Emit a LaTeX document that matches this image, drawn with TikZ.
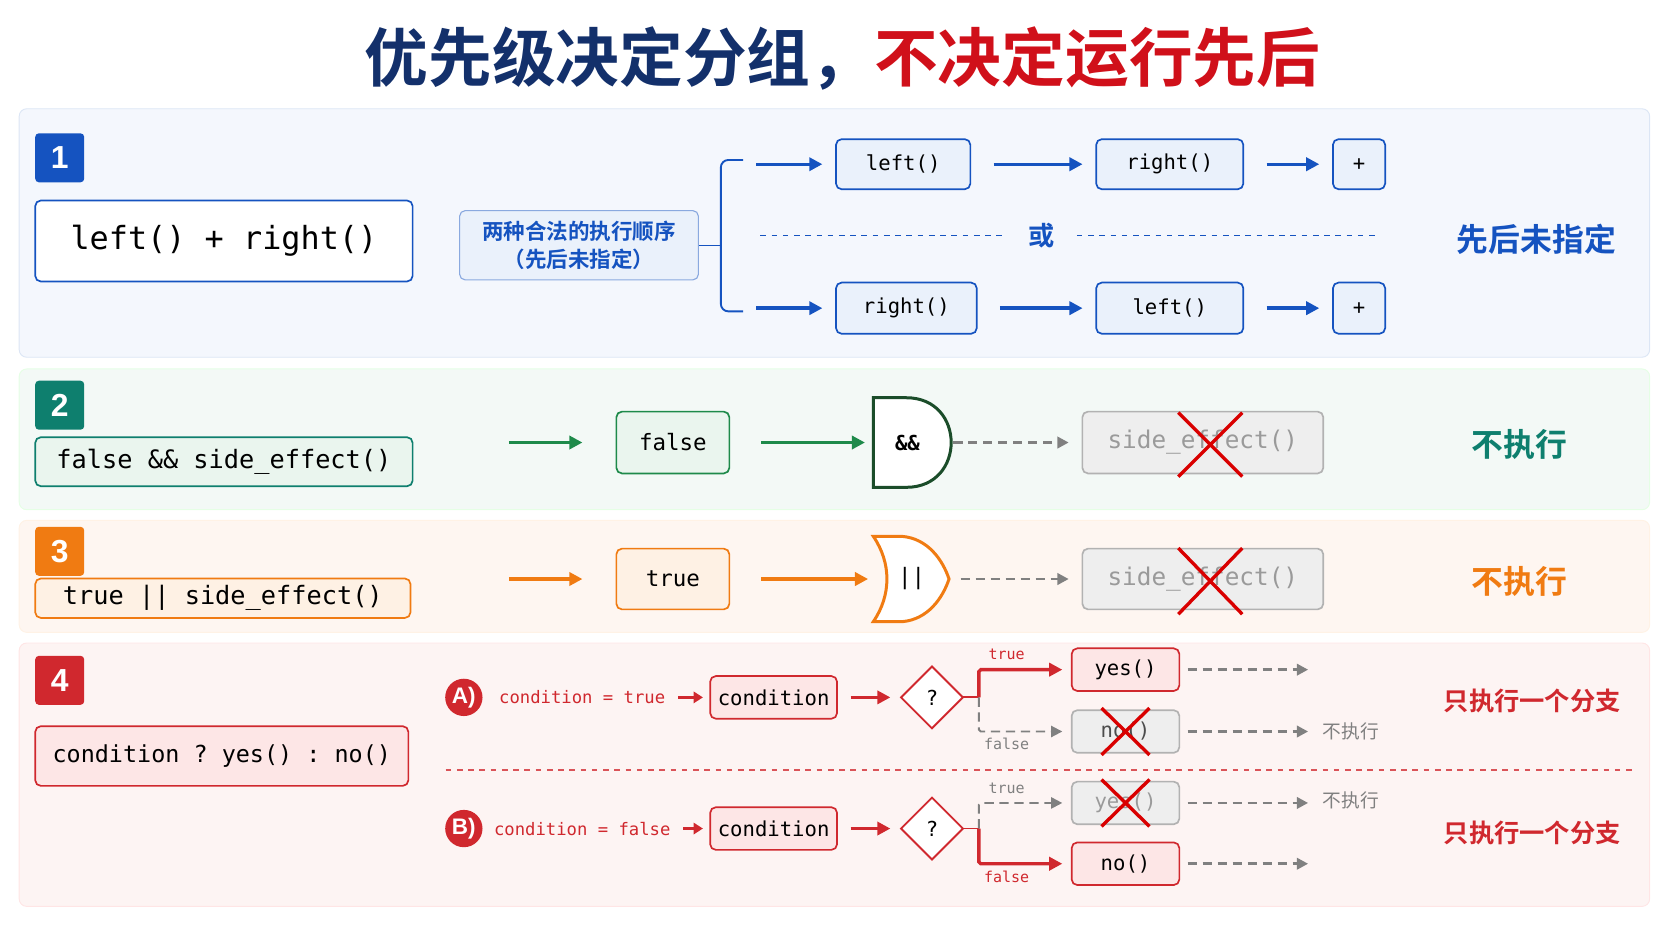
\documentclass[tikz,border=0pt]{standalone}
\usepackage{fontspec}
\setmainfont{Liberation Sans}
\setmonofont{DejaVu Sans Mono}
\newfontfamily\cjk{Noto Sans CJK SC}
\newfontfamily\cjkb{Noto Sans CJK SC Bold}
\usetikzlibrary{arrows.meta,positioning}
\definecolor{navy}{HTML}{13306B}
\definecolor{tred}{HTML}{D0101A}
\definecolor{bblue}{HTML}{1553C0}
\definecolor{bgone}{HTML}{F4F7FD}
\definecolor{bdone}{HTML}{DCE6F5}
\definecolor{boxone}{HTML}{EAF1FB}
\definecolor{teal}{HTML}{0E7F6E}
\definecolor{gate}{HTML}{1B4D2A}
\definecolor{garrow}{HTML}{1E8A4A}
\definecolor{bgtwo}{HTML}{F3F9F6}
\definecolor{boxtwo}{HTML}{EAF5EE}
\definecolor{oran}{HTML}{F07B12}
\definecolor{bgthree}{HTML}{FEF6F1}
\definecolor{boxthree}{HTML}{FEF1E4}
\definecolor{rred}{HTML}{D0282E}
\definecolor{bgfour}{HTML}{FDF4F3}
\definecolor{boxfour}{HTML}{FDE6E6}
\definecolor{gbox}{HTML}{EEEEEE}
\definecolor{gtext}{HTML}{9A9A9A}
\newcommand\fs[1]{\fontsize{#1}{#1}\selectfont}
\begin{document}
\begin{tikzpicture}[
    x=0.02cm, y=-0.02cm,
    box/.style = {
      draw,
      rounded corners = 3pt,
      line width = 0.9pt,
      inner sep = 0pt,
      font = \ttfamily\fs{11}
    },
    badge/.style = {
      rounded corners = 2pt,
      minimum size = 0.92cm,
      text = white,
      font = \bfseries\fs{17}
    },
    panel/.style = {
      rounded corners = 4pt,
      line width = 0.5pt
    },
    arr/.style = {
      line width = 1.8pt,
      -{Triangle[length=7pt,width=7pt]}
    },
    skip/.style = {
      gray,
      line width = 1.5pt,
      dash pattern = on 5pt off 3pt,
      -{Triangle[length=6pt,width=6pt]}
    },
    gbx/.style = {
      box,
      draw = gray!60,
      fill = gbox,
      text = gtext
    },
    cross/.style = {
      red!85!black,
      line width = 1.8pt
    }
  ]
  \useasboundingbox (0,0) rectangle (1568,882);

  % title
  \node (title) at (790,55) {\cjkb\fs{34}\textcolor{navy}{优先级决定分组，}\textcolor{tred}{不决定运行先后}};

  % panels
  \draw[panel, draw=bdone, fill=bgone] (18,102) rectangle (1547,335);
  \draw[panel, draw=green!10, fill=bgtwo] (18,346) rectangle (1547,478);
  \draw[panel, draw=orange!10, fill=bgthree] (18,488) rectangle (1547,593);
  \draw[panel, draw=red!10, fill=bgfour] (18,603) rectangle (1547,850);

  % 1
  \node[badge, fill=bblue] (b1) at (56,148) {1};
  \node[box, draw=bblue, fill=white, minimum width=7.08cm, minimum height=1.52cm, font=\ttfamily\fs{17}] (code1) at (210,226) {left() + right()};
  \node[box, draw=bblue!50, fill=boxone, line width=0.6pt, minimum width=4.48cm, minimum height=1.3cm, align=center, font=\cjkb\fs{11.5}, text=bblue] (why) at (543,230) {两种合法的执行顺序\\[3pt]（先后未指定）};
  \node[box, draw=bblue, fill=boxone, minimum width=2.52cm, minimum height=0.94cm] (l1) at (847,154) {left()};
  \node[box, draw=bblue, fill=boxone, minimum width=2.76cm, minimum height=0.94cm] (r1) at (1097,154) {right()};
  \node[box, draw=bblue, fill=boxone, minimum width=0.98cm, minimum height=0.94cm] (p1) at (1274.5,154) {+};
  \node[box, draw=bblue, fill=boxone, minimum width=2.64cm, minimum height=0.96cm] (r2) at (850,289) {right()};
  \node[box, draw=bblue, fill=boxone, minimum width=2.76cm, minimum height=0.96cm] (l2) at (1097,289) {left()};
  \node[box, draw=bblue, fill=boxone, minimum width=0.98cm, minimum height=0.96cm] (p2) at (1274.5,289) {+};
  \node[font=\cjkb\fs{14}, text=bblue, minimum width=1.3cm] (or) at (977,221) {或};
  \node[font=\cjkb\fs{17}, text=bblue] (unsp) at (1441,224) {先后未指定};
  \coordinate (fork) at (676,230);
  \draw[bblue, line width=0.8pt] (why.east) -- (fork);
  \draw[bblue, line width=1pt, rounded corners=4pt] (697,150) -- (676,150) -- (676,292) -- (697,292);
  \draw[bblue, dashed, line width=0.8pt] (713,221) -- (or.west);
  \draw[bblue, dashed, line width=0.8pt] (or.east) -- (1292,221);
  \foreach \a/\b in {l1/r1, r1/p1, r2/l2, l2/p2}
    \draw[arr, bblue] ([xshift=0.42cm]\a.east) -- ([xshift=-0.24cm]\b.west);
  \draw[arr, bblue] ([xshift=-1.48cm]l1.west) -- ([xshift=-0.24cm]l1.west);
  \draw[arr, bblue] ([xshift=-1.48cm]r2.west) -- ([xshift=-0.24cm]r2.west);

  % 2
  \node[badge, fill=teal] (b2) at (56,380) {2};
  \node[box, draw=teal, fill=boxtwo, minimum width=7.08cm, minimum height=0.92cm, font=\ttfamily\fs{13.5}] (code2) at (210,433) {false \&\& side\_effect()};
  \node[box, draw=garrow, fill=boxtwo, minimum width=2.12cm, minimum height=1.16cm, font=\ttfamily\fs{12}] (fls) at (631,415) {false};
  \draw[gate, line width=1.6pt, fill=white] (819,373) -- (850,373) .. controls (906,373) and (906,457) .. (850,457) -- (819,457) -- cycle;
  \node[font=\ttfamily\bfseries\fs{11}] (and) at (851,415) {\&\&};
  \node[gbx, minimum width=4.52cm, minimum height=1.16cm, font=\ttfamily\fs{13}] (se2) at (1128,415) {side\_effect()};
  \draw[cross] (1105,387) -- (1165,447) (1165,387) -- (1105,447);
  \node[font=\cjkb\fs{17}, text=teal] (no2) at (1425,417) {不执行};
  \draw[arr, garrow] ([xshift=-2cm]fls.west) -- ([xshift=-0.62cm]fls.west);
  \draw[arr, garrow] ([xshift=0.58cm]fls.east) -- ([xshift=-0.44cm]and.west);
  \draw[skip] ([xshift=0.5cm]and.east) -- ([xshift=-0.24cm]se2.west);

  % 3
  \node[badge, fill=oran] (b3) at (56,517) {3};
  \node[box, draw=oran, fill=boxthree, minimum width=7.04cm, minimum height=0.74cm, font=\ttfamily\fs{13.5}] (code3) at (209,561) {true || side\_effect()};
  \node[box, draw=oran, fill=boxthree, minimum width=2.12cm, minimum height=1.14cm, font=\ttfamily\fs{12}] (tru) at (631,543) {true};
  \draw[oran, line width=1.6pt, fill=white] (819,503) -- (846,503) .. controls (870,505) and (884,525) .. (890,543) .. controls (884,561) and (870,581) .. (846,583) -- (819,583) .. controls (836,558) and (836,528) .. (819,503) -- cycle;
  \node[font=\ttfamily\fs{12}] (orop) at (855,543) {||};
  \node[gbx, minimum width=4.52cm, minimum height=1.14cm, font=\ttfamily\fs{13}] (se3) at (1128,543) {side\_effect()};
  \draw[cross] (1105,514) -- (1165,576) (1165,514) -- (1105,576);
  \node[font=\cjkb\fs{17}, text=oran] (no3) at (1425,545) {不执行};
  \draw[arr, oran] ([xshift=-2cm]tru.west) -- ([xshift=-0.62cm]tru.west);
  \draw[arr, oran] ([xshift=0.58cm]tru.east) -- ([xshift=-0.44cm]orop.west);
  \draw[skip] ([xshift=0.54cm]orop.east) -- ([xshift=-0.24cm]se3.west);

  % 4
  \node[badge, fill=rred] (b4) at (56,638) {4};
  \node[box, draw=rred, fill=boxfour, minimum width=7.0cm, minimum height=1.12cm, font=\ttfamily\fs{12.5}] (code4) at (208,709) {condition ? yes() : no()};
  \draw[rred!80, dashed, line width=0.9pt] (418,722) -- (1530,722);
  \foreach \r/\y/\v in {A/654/true, B/777/false} {
    \node[circle, fill=rred, text=white, inner sep=0pt, minimum size=0.7cm, font=\bfseries\fs{12}] (c\r) at (435,\y) {\r)};
    \node[text=rred, font=\ttfamily\fs{9.2}] (eq\r) at (546,\y) {condition = \v};
    \node[box, draw=rred, fill=boxfour, minimum width=2.38cm, minimum height=0.8cm] (cond\r) at (725.5,\y) {condition};
    \coordinate (q\r) at (874,\y);
    \draw[rred, line width=1pt, fill=white] (874,\y-29) -- (903,\y) -- (874,\y+29) -- (845,\y) -- cycle;
    \node[font=\ttfamily\fs{11}] at (q\r) {?};
    \draw[arr, rred, line width=1.5pt, -{Triangle[length=5pt,width=6pt]}] ([xshift=0.12cm]eq\r.east) -- ([xshift=-0.12cm]cond\r.west);
    \draw[arr, rred] ([xshift=0.24cm]cond\r.east) -- ([xshift=-0.78cm]q\r);
    \draw[rred, line width=1pt] (903,\y) -- (918,\y);
  }
  \node[box, draw=rred, fill=boxfour, minimum width=2.02cm, minimum height=0.8cm] (yesA) at (1055.5,628) {yes()};
  \node[gbx, text=black!70, minimum width=2.02cm, minimum height=0.8cm] (noA) at (1055.5,686) {no()};
  \draw[cross] (1033,664) -- (1078,708) (1078,664) -- (1033,708);
  \node[gbx, minimum width=2.02cm, minimum height=0.8cm] (yesB) at (1055.5,753) {yes()};
  \draw[cross] (1033,731) -- (1078,775) (1078,731) -- (1033,775);
  \node[box, draw=rred, fill=boxfour, minimum width=2.02cm, minimum height=0.8cm] (noB) at (1055.5,810) {no()};
  \draw[arr, rred, rounded corners=1pt] (918,654) |- ([xshift=-0.16cm]yesA.west);
  \draw[skip, line width=1pt, rounded corners=1pt] (918,654) |- ([xshift=-0.16cm]noA.west);
  \draw[skip, line width=1pt, rounded corners=1pt] (918,777) |- ([xshift=-0.16cm]yesB.west);
  \draw[arr, rred, rounded corners=1pt] (918,777) |- ([xshift=-0.16cm]noB.west);
  \node[text=rred, font=\ttfamily\fs{8}] (tA) at (944,614) {true};
  \node[text=gray, font=\ttfamily\fs{8}] (fA) at (944,698) {false};
  \node[text=gray, font=\ttfamily\fs{8}] (tB) at (944,739) {true};
  \node[text=rred, font=\ttfamily\fs{8}] (fB) at (944,822) {false};
  \node[text=gray, font=\cjk\fs{10}] (nA) at (1267,686) {不执行};
  \node[text=gray, font=\cjk\fs{10}] (nB) at (1267,751) {不执行};
  \foreach \n in {yesA, noA, yesB, noB}
    \draw[skip] ([xshift=0.14cm]\n.east) -- ([xshift=2.4cm]\n.east);
  \node[text=rred, font=\cjkb\fs{13.5}] (oneA) at (1437,657) {只执行一个分支};
  \node[text=rred, font=\cjkb\fs{13.5}] (oneB) at (1437,781) {只执行一个分支};
\end{tikzpicture}
\end{document}
